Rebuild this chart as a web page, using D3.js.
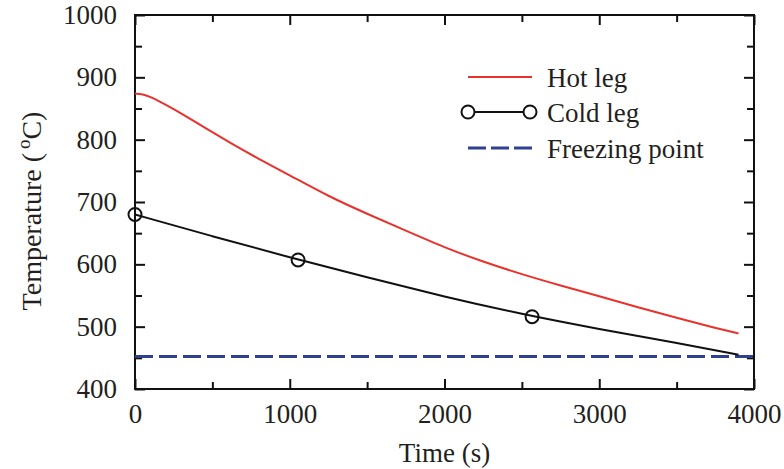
<!DOCTYPE html>
<html>
<head>
<meta charset="utf-8">
<script src="https://cdn.jsdelivr.net/npm/d3@7"></script>
<style>
  body { margin: 0; background: #fff; }
  svg text { font-family: 'Liberation Serif', 'Times New Roman', serif; fill: #231f20; }
</style>
</head>
<body>
<div id="chart"></div>
<script>
const width = 784;
const height = 469;
const marginLeft = 135;
const marginRight = 30;
const marginTop = 15;
const marginBottom = 80;

// data
const hotTime = [0, 50, 100, 200, 300, 400, 500, 600, 800, 1000, 1250, 1500, 1750, 2000, 2250, 2500, 2750, 3000, 3250, 3500, 3750, 3900];
const hotTemp = [874, 873, 869, 856, 842, 827, 812, 797, 769, 743, 709, 681, 654, 627, 604, 584, 566, 549, 531, 514, 498, 489];
const coldTime = [0, 500, 1000, 1500, 2000, 2500, 3000, 3500, 3900];
const coldTemp = [680, 645, 611, 579, 548, 520, 496, 474, 455];
const markerTime = [0, 1054, 2566];
const markerTemp = [680, 607, 516];
const freezingTemp = 452;
const xTicks = [0, 1000, 2000, 3000, 4000];
const yTicks = [400, 500, 600, 700, 800, 900, 1000];
const legendNames = ['Hot leg', 'Cold leg', 'Freezing point'];

const hot = hotTime.map((t, i) => ({ t: t, v: hotTemp[i] }));
const cold = coldTime.map((t, i) => ({ t: t, v: coldTemp[i] }));
const markers = markerTime.map((t, i) => ({ t: t, v: markerTemp[i] }));

const svg = d3.select('#chart')
    .append('svg')
    .attr('width', width)
    .attr('height', height);

const x = d3.scaleLinear()
    .domain([0, 4000])
    .range([marginLeft, width - marginRight]);

const y = d3.scaleLinear()
    .domain([400, 1000])
    .range([height - marginBottom, marginTop]);

const fontSize = '27px';
const serif = "'Liberation Serif', 'Times New Roman', serif";

// minor ticks, all four sides
const xMinor = d3.range(500, 4000, 1000);
const yMinor = d3.range(450, 1000, 100);

function styleAxis(g) {
    g.attr('font-family', serif);
    g.select('.domain').remove();
    g.selectAll('line').attr('stroke', '#111').attr('stroke-width', 2);
    g.selectAll('text')
        .style('font-size', fontSize)
        .style('font-family', serif)
        .attr('fill', '#231f20');
}

svg.append('g')
    .attr('transform', `translate(0,${y(400)})`)
    .call(d3.axisBottom(x).tickValues(xTicks).tickSize(-10).tickPadding(15).tickFormat(d3.format('d')))
    .call(styleAxis);
svg.append('g')
    .attr('transform', `translate(0,${y(400)})`)
    .call(d3.axisBottom(x).tickValues(xMinor).tickSize(-7).tickFormat(''))
    .call(styleAxis);
svg.append('g')
    .attr('transform', `translate(0,${y(1000)})`)
    .call(d3.axisTop(x).tickValues(xTicks).tickSize(-10).tickFormat(''))
    .call(styleAxis);
svg.append('g')
    .attr('transform', `translate(0,${y(1000)})`)
    .call(d3.axisTop(x).tickValues(xMinor).tickSize(-7).tickFormat(''))
    .call(styleAxis);

svg.append('g')
    .attr('transform', `translate(${x(0)},0)`)
    .call(d3.axisLeft(y).tickValues(yTicks).tickSize(-10).tickPadding(18).tickFormat(d3.format('d')))
    .call(styleAxis);
svg.append('g')
    .attr('transform', `translate(${x(0)},0)`)
    .call(d3.axisLeft(y).tickValues(yMinor).tickSize(-7).tickFormat(''))
    .call(styleAxis);
svg.append('g')
    .attr('transform', `translate(${x(4000)},0)`)
    .call(d3.axisRight(y).tickValues(yTicks).tickSize(-10).tickFormat(''))
    .call(styleAxis);
svg.append('g')
    .attr('transform', `translate(${x(4000)},0)`)
    .call(d3.axisRight(y).tickValues(yMinor).tickSize(-7).tickFormat(''))
    .call(styleAxis);

// frame
svg.append('rect')
    .attr('x', x(0))
    .attr('y', y(1000))
    .attr('width', x(4000) - x(0))
    .attr('height', y(400) - y(1000))
    .attr('fill', 'none')
    .attr('stroke', '#111')
    .attr('stroke-width', 2);

const line = d3.line()
    .x((d) => x(d.t))
    .y((d) => y(d.v))
    .curve(d3.curveBasis);

svg.append('line')
    .attr('x1', x(0))
    .attr('x2', x(4000))
    .attr('y1', y(freezingTemp))
    .attr('y2', y(freezingTemp))
    .attr('stroke', '#2f4190')
    .attr('stroke-width', 3)
    .attr('stroke-dasharray', '18,6');

svg.append('path')
    .datum(hot)
    .attr('d', line)
    .attr('fill', 'none')
    .attr('stroke', '#e8322d')
    .attr('stroke-width', 2);

svg.append('path')
    .datum(cold)
    .attr('d', line)
    .attr('fill', 'none')
    .attr('stroke', '#111')
    .attr('stroke-width', 2);

svg.selectAll('.marker')
    .data(markers)
    .enter()
    .append('circle')
    .attr('class', 'marker')
    .attr('cx', (d) => x(d.t))
    .attr('cy', (d) => y(d.v))
    .attr('r', 6.5)
    .attr('fill', 'none')
    .attr('stroke', '#111')
    .attr('stroke-width', 2);

// legend
const legend = svg.append('g').attr('class', 'legend');
const legendY = [77, 112, 148];
legend.append('line')
    .attr('x1', 468).attr('x2', 532)
    .attr('y1', legendY[0]).attr('y2', legendY[0])
    .attr('stroke', '#e8322d').attr('stroke-width', 2);
legend.append('line')
    .attr('x1', 468).attr('x2', 530)
    .attr('y1', legendY[1]).attr('y2', legendY[1])
    .attr('stroke', '#111').attr('stroke-width', 2);
[468, 530].forEach((cx) => {
    legend.append('circle')
        .attr('cx', cx).attr('cy', legendY[1]).attr('r', 6.5)
        .attr('fill', '#fff').attr('stroke', '#111').attr('stroke-width', 2);
});
legend.append('line')
    .attr('x1', 468).attr('x2', 532)
    .attr('y1', legendY[2]).attr('y2', legendY[2])
    .attr('stroke', '#2f4190').attr('stroke-width', 3)
    .attr('stroke-dasharray', '18,5');
legend.selectAll('.ltext')
    .data(legendNames)
    .enter()
    .append('text')
    .attr('class', 'ltext')
    .attr('x', 547)
    .attr('y', (d, i) => legendY[i] + 10)
    .style('font-size', fontSize)
    .text((d) => d);

// axis titles
svg.append('text')
    .attr('x', (x(0) + x(4000)) / 2)
    .attr('y', 462)
    .style('font-size', fontSize)
    .style('text-anchor', 'middle')
    .text('Time (s)');

const yTitle = svg.append('text')
    .attr('transform', 'translate(41,211) rotate(-90)')
    .style('font-size', '28px')
    .style('text-anchor', 'middle');
yTitle.append('tspan').text('Temperature (');
yTitle.append('tspan').attr('dx', 4).attr('dy', -11).style('font-size', '19px').text('o');
yTitle.append('tspan').attr('dy', 11).text('C)');
</script>
</body>
</html>
